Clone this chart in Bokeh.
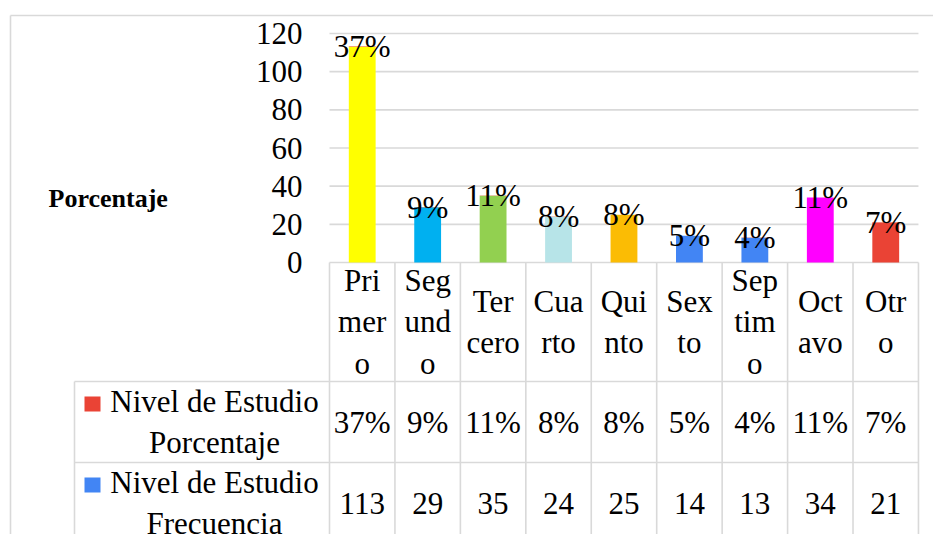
from bokeh.plotting import figure
from bokeh.models import Range1d
from bokeh.core.properties import value
from bokeh.embed import file_html
from bokeh.resources import INLINE

# ---------------- data ----------------
categories = ["Primero", "Segundo", "Tercero", "Cuarto", "Quinto",
              "Sexto", "Septimo", "Octavo", "Otro"]
category_lines = ["Pri\nmer\no", "Seg\nund\no", "Ter\ncero", "Cua\nrto", "Qui\nnto",
                  "Sex\nto", "Sep\ntim\no", "Oct\navo", "Otr\no"]
frecuencia = [113, 29, 35, 24, 25, 14, 13, 34, 21]
porcentaje = [0.37, 0.09, 0.11, 0.08, 0.08, 0.05, 0.04, 0.11, 0.07]
series_labels = ["Nivel de Estudio\nPorcentaje", "Nivel de Estudio\nFrecuencia"]
y_ticks = [0, 20, 40, 60, 80, 100, 120]
axis_title = "Porcentaje"

# ---------------- styles ----------------
bar_colors = ["#FFFF00", "#00B0F0", "#92D050", "#B7E4E8", "#FBBC04",
              "#4285F4", "#4285F4", "#FF00FF", "#EA4335"]
pct_color = "#EA4335"
freq_color = "#4285F4"
grid_color = "#D9D9D9"
FONT = value("Liberation Serif")
FS = "31px"

# ---------------- layout helpers (picture pixels -> data) ----------------
W, H = 933, 534
CELL = 65.44                 # px per category
X_LEFT = 329                 # x of the left edge of first category cell
PX_Y = 229 / 120             # px per y unit
Y_ZERO = 262                 # y of value 0


def xp(px):
    return -0.5 + (px - X_LEFT) / CELL


def yp(py):
    return (Y_ZERO - py) / PX_Y


x0, x1 = xp(0), xp(W)
y1, y0 = yp(0), yp(H)

p = figure(width=W, height=H, x_range=Range1d(x0, x1), y_range=Range1d(y0, y1),
           output_backend="svg", toolbar_location=None,
           x_axis_location=None, y_axis_location=None, min_border=0)
p.outline_line_color = None
p.grid.visible = False

xs = list(range(len(categories)))
n = len(categories)

# outer chart border
p.segment(x0=[xp(10), xp(10)], y0=[yp(15), yp(15)], x1=[x1, xp(10)], y1=[yp(15), y0],
          line_color=grid_color, line_width=1.6)

# gridlines
p.segment(x0=[-0.5] * len(y_ticks), x1=[n - 0.5] * len(y_ticks), y0=y_ticks, y1=y_ticks,
          line_color=grid_color, line_width=1.6)

# bars (frequency) + stacked tiny percentage segment
p.vbar(x=xs, bottom=0, top=frecuencia, width=0.41, fill_color=bar_colors, line_color=None)
tops = [f + q for f, q in zip(frecuencia, porcentaje)]
p.vbar(x=xs, bottom=frecuencia, top=tops, width=0.41, fill_color=pct_color, line_color=None)

pct_labels = [f"{round(q * 100)}%" for q in porcentaje]
p.text(x=xs, y=[f + q / 2 for f, q in zip(frecuencia, porcentaje)], text=pct_labels,
       text_align="center", text_baseline="middle", text_font=FONT, text_font_size=FS,
       text_color="black")

# y tick labels
p.text(x=[xp(302)] * len(y_ticks), y=y_ticks, text=[str(t) for t in y_ticks],
       text_align="right", text_baseline="middle", text_font=FONT, text_font_size=FS,
       text_color="black")

# axis title
p.text(x=[xp(48)], y=[yp(198)], text=[axis_title], text_align="left", text_baseline="middle",
       text_font=FONT, text_font_size="26px", text_font_style="bold", text_color="black")

# data table lines
bottom = y0
p.segment(x0=[k - 0.5 for k in range(n + 1)], x1=[k - 0.5 for k in range(n + 1)],
          y0=[0] * (n + 1), y1=[bottom] * (n + 1), line_color=grid_color, line_width=1.6)
p.segment(x0=[xp(74)], x1=[xp(74)], y0=[yp(381)], y1=[bottom],
          line_color=grid_color, line_width=1.6)
p.segment(x0=[xp(74), xp(74)], x1=[n - 0.5, n - 0.5], y0=[yp(381), yp(462)], y1=[yp(381), yp(462)],
          line_color=grid_color, line_width=1.6)

# category labels
p.text(x=xs, y=[yp(321.5)] * n, text=category_lines, text_align="center",
       text_baseline="middle", text_font=FONT, text_font_size=FS, text_color="black",
       text_line_height=1.18)

# table rows
p.text(x=xs, y=[yp(421.5)] * n, text=pct_labels, text_align="center",
       text_baseline="middle", text_font=FONT, text_font_size=FS, text_color="black")
p.text(x=xs, y=[yp(502.5)] * n, text=[str(f) for f in frecuencia], text_align="center",
       text_baseline="middle", text_font=FONT, text_font_size=FS, text_color="black")

# legend cells
p.text(x=[xp(214), xp(214)], y=[yp(421.5), yp(502.5)], text=series_labels, text_align="center",
       text_baseline="middle", text_font=FONT, text_font_size=FS, text_color="black",
       text_line_height=1.18)
p.quad(left=[xp(84), xp(84)], right=[xp(100), xp(100)], top=[yp(396), yp(477)],
       bottom=[yp(411), yp(492)], fill_color=[pct_color, freq_color], line_color=None)

open("out.html", "w").write(file_html(p, INLINE))
